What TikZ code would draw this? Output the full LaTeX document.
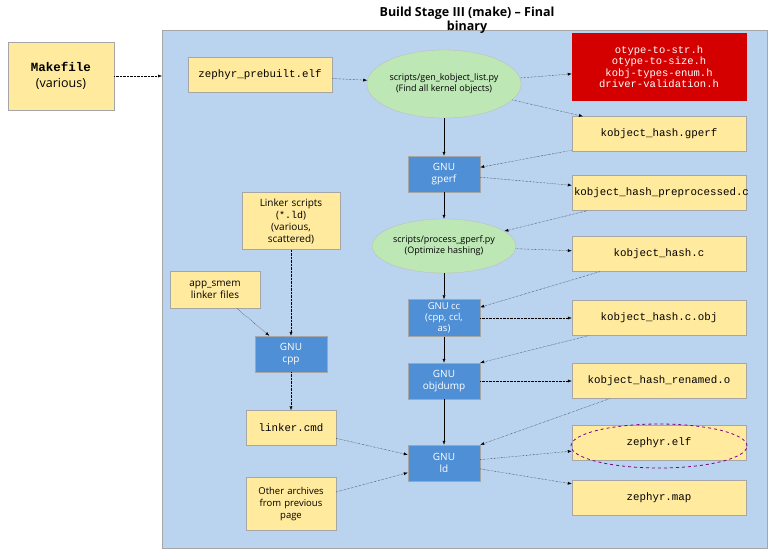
\documentclass[tikz,border=0pt]{standalone}
\usepackage{fontspec}
\setmainfont{Open Sans}
\setmonofont{Liberation Mono}
\usetikzlibrary{positioning, arrows.meta, shapes.geometric}
\definecolor{panel}{HTML}{BAD3EE}
\definecolor{filebox}{HTML}{FFEA9E}
\definecolor{toolbox}{HTML}{4F8FD6}
\definecolor{scriptell}{HTML}{BDE8B5}
\definecolor{hdrred}{HTML}{D40000}
\tikzset{
  file/.style={draw=gray!70, fill=filebox, minimum height=35pt, text width=#1, align=center, inner sep=2pt, font=\fontsize{10.8}{12}\ttfamily},
  file/.default=170pt,
  note/.style={draw=gray!70, fill=filebox, align=center, inner sep=2pt, font=\fontsize{11}{13}\selectfont},
  tool/.style={draw=gray!70, fill=toolbox, text=white, minimum width=72pt, minimum height=36pt, align=center, font=\fontsize{10}{12}\selectfont},
  script/.style={ellipse, draw=gray!50, fill=scriptell, align=center, inner sep=0pt, minimum width=130pt, font=\fontsize{9}{11}\selectfont},
  dep/.style={densely dotted, -{Latex[length=4pt]}},
  flow/.style={-{Latex[length=4pt]}}
}
\begin{document}
\begin{tikzpicture}[x=1pt, y=-1pt]
\useasboundingbox (0,0) rectangle (770,557);

% panel and title
\draw[gray!70, fill=panel] (162,30) rectangle (767,548);
\node[align=center, font=\fontsize{12.5}{14}\selectfont\bfseries] (title) at (467,20) {Build Stage III (make) -- Final\\binary};

% left column
\node[note, minimum width=106pt, minimum height=68pt, font=\fontsize{12.5}{16}\selectfont] (makefile) at (61,76) {\texttt{\textbf{Makefile}}\\(various)};
\node[file=140pt] (prebuilt) at (260,75) {zephyr\_prebuilt.elf};
\node[note, text width=94pt, minimum height=57pt, font=\fontsize{10}{12}\selectfont] (ldscripts) at (291,221) {Linker scripts\\(\texttt{*.ld})\\(various,\\scattered)};
\node[note, text width=86pt, minimum height=37pt, font=\fontsize{10}{12}\selectfont] (smem) at (215,290) {app\_smem\\linker files};
\node[tool] (cpp) at (291,354) {GNU\\cpp};
\node[file=86pt] (linkercmd) at (291,428) {linker.cmd};
\node[note, text width=86pt, minimum height=53pt, font=\fontsize{9.5}{12}\selectfont] (archives) at (291,504) {Other archives\\from previous\\page};

% middle column
\node[script, minimum height=68pt] (genkobj) at (444,84) {scripts/gen\_kobject\_list.py\\(Find all kernel objects)};
\node[tool] (gperf) at (444,174) {GNU\\gperf};
\node[script, minimum height=54pt] (procgperf) at (444,246) {scripts/process\_gperf.py\\(Optimize hashing)};
\node[tool, font=\fontsize{9.5}{11}\selectfont] (cc) at (444,318) {GNU cc\\(cpp, ccl,\\as)};
\node[tool] (objdump) at (444,381) {GNU\\objdump};
\node[tool] (ld) at (444,463) {GNU\\ld};

% right column
\node[file, fill=hdrred, draw=hdrred, text=white, minimum height=67pt, font=\fontsize{10.5}{11.5}\ttfamily] (headers) at (659,67) {otype-to-str.h\\otype-to-size.h\\kobj-types-enum.h\\driver-validation.h};
\node[file] (hashgperf) at (659,134) {kobject\_hash.gperf};
\node[file] (hashpre) at (659,193) {kobject\_hash\_preprocessed.c};
\node[file] (hashc) at (659,254) {kobject\_hash.c};
\node[file] (hashobj) at (659,318) {kobject\_hash.c.obj};
\node[file] (renamed) at (659,381) {kobject\_hash\_renamed.o};
\node[file] (elf) at (659,443) {zephyr.elf};
\node[file] (map) at (659,498) {zephyr.map};
\node[ellipse, draw=violet, dashed, thick, minimum width=176pt, minimum height=44pt] (elfmark) at (659,446) {};

% connectors
\draw[dep] (makefile) -- (makefile -| 162,0);
\draw[dep] (prebuilt) -- (genkobj);
\draw[dep] (genkobj) -- (headers);
\draw[dep] (genkobj) -- (hashgperf);
\draw[flow] (genkobj) -- (gperf);
\draw[dep] (hashgperf) -- (gperf);
\draw[dep] (gperf) -- (hashpre);
\draw[flow] (gperf) -- (procgperf);
\draw[dep] (hashpre) -- (procgperf);
\draw[dep] (procgperf) -- (hashc);
\draw[flow] (procgperf) -- (cc);
\draw[dep] (hashc) -- (cc);
\draw[dep] (cc) -- (hashobj);
\draw[flow] (cc) -- (objdump);
\draw[dep] (hashobj) -- (objdump.north east);
\draw[dep] (objdump) -- (renamed);
\draw[flow] (objdump) -- (ld);
\draw[dep] (renamed) -- (ld.north east);
\draw[dep] (ld) -- (elf);
\draw[dep] (ld) -- (map);
\draw[dep] (ldscripts) -- (cpp);
\draw[dep] (smem) -- (cpp);
\draw[dep] (cpp) -- (linkercmd);
\draw[dep] (linkercmd) -- (ld);
\draw[dep] (archives) -- (ld);
\end{tikzpicture}
\end{document}
